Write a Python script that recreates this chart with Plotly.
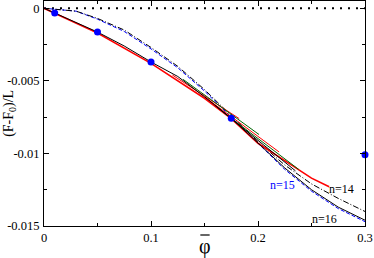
import plotly.graph_objects as go

# ---- data ----
phi_grid = [0, 0.01, 0.03, 0.05, 0.075, 0.1, 0.125, 0.15, 0.175, 0.2, 0.225, 0.25, 0.275, 0.3]
black_solid = [0, -0.00033, -0.001, -0.00164, -0.0026, -0.0037, -0.0047, -0.0061, -0.00757,
               -0.0093, -0.0110, -0.0125, -0.0137, -0.0146]
blue_dashed = [0, -0.00005, -0.0002, -0.00075, -0.0016, -0.0028, -0.0041, -0.0057, -0.0075,
               -0.0093, -0.0111, -0.0126, -0.0138, -0.0147]
black_dashdot = [0, -0.00005, -0.0002, -0.0007, -0.0015, -0.0027, -0.0040, -0.0056, -0.0074,
                 -0.0092, -0.0108, -0.0121, -0.0131, -0.0140]
red_phi = [0, 0.01, 0.05, 0.1, 0.15, 0.175, 0.2, 0.225, 0.25, 0.2665]
red_vals = [0, -0.00035, -0.0017, -0.0038, -0.0062, -0.0076, -0.0093, -0.0105, -0.0117, -0.0123]

# short fitted segments (start/end)
green_seg1_phi = [0.13, 0.201]
green_seg1_val = [-0.0049, -0.0087]
green_seg2_phi = [0.17, 0.238]
green_seg2_val = [-0.0073, -0.0111]
red_seg1_phi = [0.15, 0.2197]
red_seg1_val = [-0.0061, -0.0099]
red_seg2_phi = [0.12, 0.1824]
red_seg2_val = [-0.0046, -0.0076]
black_seg_phi = [0.16, 0.235]
black_seg_val = [-0.0067, -0.0112]

points_phi = [0.01, 0.05, 0.1, 0.175, 0.3]
points_val = [-0.00033, -0.00164, -0.0037, -0.00757, -0.0101]

zero_phi = [0, 0.3]
zero_val = [0, 0]

labels = [("n=15", 0.223, -0.01217, "blue"),
          ("n=14", 0.278, -0.01245, "black"),
          ("n=16", 0.2625, -0.01452, "black")]

fig = go.Figure()

fig.add_trace(go.Scatter(x=zero_phi, y=zero_val, mode="lines",
                         line=dict(color="black", width=2, dash="2px,6px")))
fig.add_trace(go.Scatter(x=phi_grid, y=blue_dashed, mode="lines",
                         line=dict(color="blue", width=1, dash="4px,2px")))
fig.add_trace(go.Scatter(x=phi_grid, y=black_dashdot, mode="lines",
                         line=dict(color="black", width=1, dash="6px,2px,1px,2px")))
fig.add_trace(go.Scatter(x=red_phi, y=red_vals, mode="lines",
                         line=dict(color="red", width=1.6)))
fig.add_trace(go.Scatter(x=red_seg1_phi, y=red_seg1_val, mode="lines",
                         line=dict(color="red", width=1)))
fig.add_trace(go.Scatter(x=red_seg2_phi, y=red_seg2_val, mode="lines",
                         line=dict(color="red", width=1)))
fig.add_trace(go.Scatter(x=green_seg1_phi, y=green_seg1_val, mode="lines",
                         line=dict(color="darkgreen", width=1)))
fig.add_trace(go.Scatter(x=green_seg2_phi, y=green_seg2_val, mode="lines",
                         line=dict(color="darkgreen", width=1)))
fig.add_trace(go.Scatter(x=black_seg_phi, y=black_seg_val, mode="lines",
                         line=dict(color="black", width=1)))
fig.add_trace(go.Scatter(x=phi_grid, y=black_solid, mode="lines",
                         line=dict(color="black", width=1)))
fig.add_trace(go.Scatter(x=points_phi, y=points_val, mode="markers",
                         marker=dict(color="blue", size=7), cliponaxis=False))

for txt, x, y, c in labels:
    fig.add_annotation(x=x, y=y, text=txt, showarrow=False,
                       font=dict(family="Liberation Serif", size=12, color=c))

fig.add_annotation(xref="paper", yref="paper", x=-0.108, y=0.5,
                   xanchor="center", yanchor="middle",
                   text="(F-F<sub>0</sub>)/L", textangle=-90, showarrow=False,
                   font=dict(family="Liberation Serif", size=14, color="black"))
fig.add_annotation(xref="paper", yref="paper", x=0.5016, y=-0.09,
                   xanchor="center", yanchor="middle",
                   text="φ", showarrow=False,
                   font=dict(family="Liberation Serif", size=20, color="black"))
fig.add_shape(type="line", xref="paper", yref="paper",
              x0=0.487, x1=0.516, y0=-0.04, y1=-0.04,
              line=dict(color="black", width=1.2))

axis_common = dict(showgrid=False, zeroline=False, showline=True, linecolor="black",
                   linewidth=1, mirror="ticks", ticks="inside", ticklen=5,
                   tickcolor="black", tickwidth=1,
                   tickfont=dict(family="Liberation Serif", size=12.5, color="black"))

fig.update_xaxes(range=[0, 0.3], tickvals=[0, 0.1, 0.2, 0.3],
                 ticktext=["0", "0.1", "0.2", "0.3"],
                 minor=dict(dtick=0.05, ticks="inside", ticklen=3, tickcolor="black"),
                 **axis_common)
fig.update_yaxes(range=[-0.015, 0.0005], tickvals=[0, -0.005, -0.01, -0.015],
                 ticktext=["0", "-0.005", "-0.01", "-0.015"],
                 minor=dict(dtick=0.0025, ticks="inside", ticklen=3, tickcolor="black"),
                 ticklabelstandoff=1,
                 **axis_common)

fig.update_layout(width=374, height=258, showlegend=False,
                  margin=dict(l=44, r=9, t=1, b=32),
                  plot_bgcolor="white", paper_bgcolor="white")

fig.write_html("out.html", config={"displayModeBar": False},
               post_script="document.body.style.margin='0';")
